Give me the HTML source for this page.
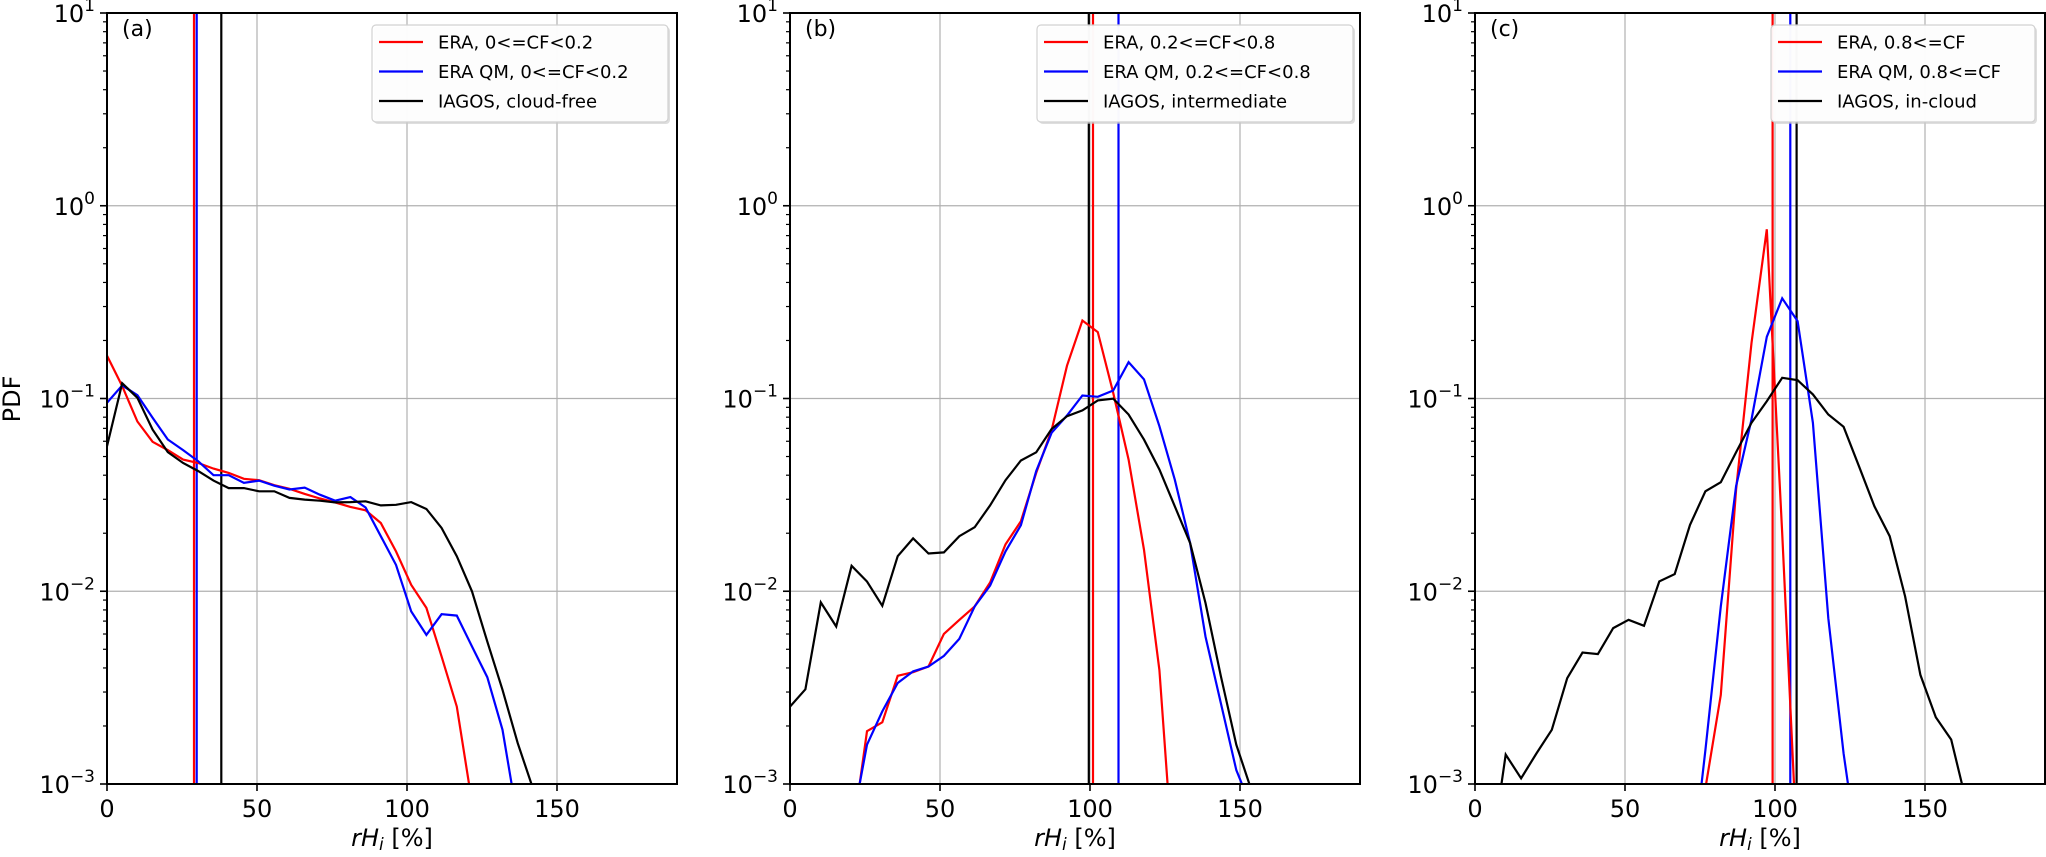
<!DOCTYPE html>
<html><head><meta charset="utf-8"><style>
html,body{margin:0;padding:0;background:#fff;overflow:hidden;width:2046px;height:857px;}
svg{display:block;overflow:hidden;}
svg text{font-family:"DejaVu Sans","Liberation Sans",sans-serif;}
</style></head><body>
<svg id="fig" width="2046" height="857" viewBox="0 0 2046 857" xmlns="http://www.w3.org/2000/svg"></svg>
<script>
// ---- data ----
const xTicks = [0, 50, 100, 150];
const yTickExps = [-3, -2, -1, 0, 1];
const panelLabels = ["(a)", "(b)", "(c)"];
const binStepA = 5.07, binStepB = 5.13, binStepC = 5.12;
const aRed   = [0.167,0.116,0.076,0.0596,0.054,0.0482,0.0463,0.0433,0.0411,0.0383,0.0377,0.0355,0.034,0.032,0.0303,0.0289,0.0274,0.0263,0.0226,0.0161,0.0108,0.0082,0.00458,0.00252,0.0008];
const aBlue  = [0.095,0.117,0.104,0.0794,0.0613,0.054,0.0472,0.040,0.040,0.0365,0.0375,0.0353,0.0337,0.0345,0.0317,0.0295,0.0308,0.0272,0.0193,0.0137,0.00786,0.00594,0.0076,0.00748,0.00517,0.00358,0.00191,0.00065];
const aBlack = [0.0565,0.120,0.1008,0.069,0.0527,0.0463,0.042,0.0375,0.0343,0.0343,0.033,0.033,0.0305,0.0299,0.0295,0.0289,0.029,0.0293,0.0279,0.0281,0.029,0.0267,0.0213,0.0152,0.00998,0.00548,0.00308,0.00163,0.00095];
const bRed   = [null,null,null,null,0.0005,0.00188,0.00209,0.00364,0.0038,0.00407,0.00601,0.0071,0.00834,0.0111,0.0175,0.0231,0.0411,0.0685,0.148,0.254,0.221,0.107,0.0482,0.0164,0.0039,0.0003];
const bBlue  = [null,null,null,null,0.0006,0.0016,0.00238,0.00334,0.00384,0.00407,0.00462,0.00566,0.00834,0.0107,0.0161,0.022,0.042,0.0664,0.0816,0.1037,0.102,0.110,0.1545,0.1257,0.0718,0.0379,0.0178,0.00582,0.00262,0.00118,0.00075];
const bBlack = [0.00252,0.0031,0.00875,0.00656,0.01355,0.01124,0.0084,0.0152,0.0188,0.0157,0.0159,0.0193,0.0215,0.0279,0.0377,0.0477,0.0526,0.0695,0.0809,0.0867,0.0977,0.0999,0.0826,0.0612,0.0428,0.0276,0.0178,0.00869,0.00362,0.0016,0.00092];
const cRed   = [null,null,null,null,null,null,null,null,null,null,null,null,null,null,0.0002,0.00095,0.0029,0.0337,0.194,0.755,0.02,0.0004];
const cBlue  = [null,null,null,null,null,null,null,null,null,null,null,null,null,null,0.0003,0.0015,0.00834,0.0351,0.0778,0.209,0.331,0.252,0.0748,0.00726,0.00144,0.0004];
const cBlack = [null,0.0004,0.00142,0.00107,0.00144,0.00191,0.00354,0.00481,0.00472,0.00644,0.00711,0.00662,0.01125,0.01228,0.0221,0.033,0.0368,0.0526,0.0748,0.0968,0.128,0.1245,0.105,0.0826,0.0713,0.0445,0.0276,0.0193,0.0094,0.00368,0.00222,0.0017,0.0008];
const aVlines = [29.0, 29.9, 38.1];
const bVlines = [101.0, 109.5, 99.6];
const cVlines = [99.2, 105.1, 107.2];
const legendA = ["ERA, 0<=CF<0.2", "ERA QM, 0<=CF<0.2", "IAGOS, cloud-free"];
const legendB = ["ERA, 0.2<=CF<0.8", "ERA QM, 0.2<=CF<0.8", "IAGOS, intermediate"];
const legendC = ["ERA, 0.8<=CF", "ERA QM, 0.8<=CF", "IAGOS, in-cloud"];

// ---- layout ----
const NS = "http://www.w3.org/2000/svg";
const svg = document.getElementById('fig');
const TOP = 13, BOT = 784, W = 570;
const lefts = [107, 790, 1475];
const legendLefts = [372, 1037, 1771];
const legendWidths = [296, 316, 264];
const colors = ["#ff0000", "#0000ff", "#000000"];
function mk(tag, attrs, parent) {
  const e = document.createElementNS(NS, tag);
  for (const k in attrs) e.setAttribute(k, attrs[k]);
  (parent || svg).appendChild(e);
  return e;
}
function xScale(left, v) { return left + (v / 190) * W; }
function yScale(v) { return BOT - (Math.log10(v) + 3) / 4 * (BOT - TOP); }

const panels = [
  {series: [aRed, aBlue, aBlack], step: binStepA, vl: aVlines, leg: legendA},
  {series: [bRed, bBlue, bBlack], step: binStepB, vl: bVlines, leg: legendB},
  {series: [cRed, cBlue, cBlack], step: binStepC, vl: cVlines, leg: legendC}
];
const seriesNames = ["era", "era-qm", "iagos"];

panels.forEach((p, pi) => {
  const L = lefts[pi];
  const g = mk('g', {});
  
  
  const defs = mk('clipPath', {id: 'clip' + pi}, g);
  mk('rect', {x: L, y: TOP, width: W, height: BOT - TOP}, defs);
  xTicks.forEach(t => {
    if (t === 0) return;
    const gl = mk('line', {x1: xScale(L, t), x2: xScale(L, t), y1: TOP, y2: BOT, stroke: '#b0b0b0', 'stroke-width': 1.2}, g);
    
    
  });
  yTickExps.forEach(e => {
    const y = yScale(Math.pow(10, e));
    const gl = mk('line', {x1: L, x2: L + W, y1: y, y2: y, stroke: '#b0b0b0', 'stroke-width': 1.2}, g);
    
    
  });
  const cg = mk('g', {'clip-path': 'url(#clip' + pi + ')'}, g);
  p.vl.forEach((v, si) => {
    const vl = mk('line', {x1: xScale(L, v), x2: xScale(L, v), y1: TOP, y2: BOT, stroke: colors[si], 'stroke-width': 2.2}, cg);
    
    
  });
  p.series.forEach((arr, si) => {
    let d = '', pen = false;
    arr.forEach((v, i) => {
      if (v === null) { pen = false; return; }
      const x = xScale(L, i * p.step), y = yScale(v);
      d += (pen ? 'L' : 'M') + x.toFixed(1) + ' ' + y.toFixed(1);
      pen = true;
    });
    const pl = mk('path', {d: d, fill: 'none', stroke: colors[si], 'stroke-width': 2.2, 'stroke-linejoin': 'miter'}, cg);
    
    
  });
  const sp = mk('rect', {x: L, y: TOP, width: W, height: BOT - TOP, fill: 'none', stroke: '#000', 'stroke-width': 2}, g);
  
  
  xTicks.forEach(t => {
    const x = xScale(L, t);
    mk('line', {x1: x, x2: x, y1: BOT, y2: BOT + 7, stroke: '#000', 'stroke-width': 1.6}, g);
    const tx = mk('text', {x: x, y: 817, 'font-size': 24, 'text-anchor': 'middle'}, g);
    tx.textContent = t;
    
    
  });
  yTickExps.forEach(e => {
    const y = yScale(Math.pow(10, e));
    mk('line', {x1: L - 7, x2: L, y1: y, y2: y, stroke: '#000', 'stroke-width': 1.6}, g);
    if (e < 1) for (let m = 2; m <= 9; m++) {
      const ym = yScale(m * Math.pow(10, e));
      mk('line', {x1: L - 4, x2: L, y1: ym, y2: ym, stroke: '#000', 'stroke-width': 1.2}, g);
    }
    const tx = mk('text', {x: L - 12, y: y + 9, 'font-size': 24, 'text-anchor': 'end'}, g);
    
    
    const ts = mk('tspan', {}, tx); ts.textContent = '10';
    const sup = mk('tspan', {'font-size': 17, dy: -11}, tx);
    sup.textContent = (e < 0 ? '\u2212' + (-e) : String(e));
  });
  const xl = mk('text', {x: L + W / 2, y: 846, 'font-size': 24, 'text-anchor': 'middle'}, g);
  
  
  const t1 = mk('tspan', {'font-style': 'italic'}, xl); t1.textContent = 'rH';
  const t2 = mk('tspan', {'font-style': 'italic', 'font-size': 17, dy: 4}, xl); t2.textContent = 'i';
  const t3 = mk('tspan', {dy: -4}, xl); t3.textContent = ' [%]';
  const pl = mk('text', {x: L + 15, y: 36, 'font-size': 22}, g);
  pl.textContent = panelLabels[pi];
  
  
  const lg = mk('g', {}, g);
  
  
  const lx = legendLefts[pi], lw = legendWidths[pi];
  mk('rect', {x: lx + 2, y: 27, width: lw, height: 97, rx: 4, fill: '#c8c8c8', opacity: 0.6}, lg);
  mk('rect', {x: lx, y: 25, width: lw, height: 97, rx: 4, fill: '#fff', stroke: '#d0d0d0', 'stroke-width': 1.2, opacity: 0.95}, lg);
  p.leg.forEach((txt, si) => {
    const y = 42 + si * 29.5;
    const ent = mk('g', {}, lg);
    
    
    mk('line', {x1: lx + 7, x2: lx + 51, y1: y, y2: y, stroke: colors[si], 'stroke-width': 2.2}, ent);
    const t = mk('text', {x: lx + 66, y: y + 6.5, 'font-size': 18}, ent);
    t.textContent = txt;
  });
});
const yl = mk('text', {x: 0, y: 0, 'font-size': 24, 'text-anchor': 'middle', transform: 'translate(20,399) rotate(-90)'});
yl.textContent = 'PDF';


</script>
</body></html>
